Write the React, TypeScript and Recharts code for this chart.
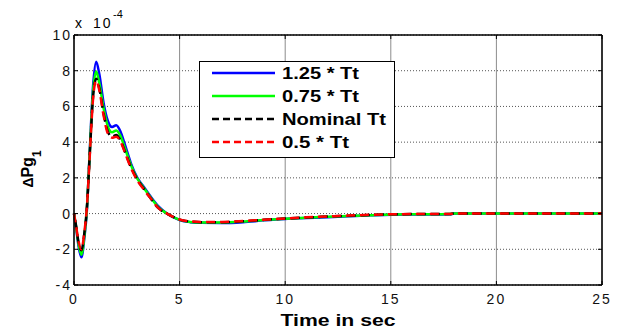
import { LineChart, Line, XAxis, YAxis, CartesianGrid, Legend } from "recharts"

const FONT = "Arial, 'Liberation Sans', Helvetica, sans-serif"

// time in sec
const time = [0, 0.1, 0.2, 0.35, 0.5, 0.6, 0.75, 0.9, 1.05, 1.2, 1.4, 1.6, 1.8, 2.0, 2.2, 2.4, 2.7, 3.0, 3.3, 3.6, 4.0, 4.4, 5, 5.5, 6, 7, 8, 9, 10, 11, 12, 13, 14, 15, 16, 17, 17.8, 18, 19, 20, 22, 25]

// delta Pg1, x 10^-4
const tt125 = [0, -0.8, -1.7, -2.45, -1.25, 0, 3.6, 7.1, 8.5, 7.8, 6.2, 5.2, 4.85, 4.95, 4.6, 3.9, 2.8, 2.0, 1.5, 1.0, 0.4, 0.0, -0.36, -0.48, -0.52, -0.53, -0.48, -0.38, -0.3, -0.25, -0.2, -0.15, -0.1, -0.06, -0.05, -0.05, -0.04, 0, 0, 0, 0, 0]
const tt075 = [0, -0.75, -1.6, -2.3, -1.15, 0.1, 3.5, 6.8, 7.95, 7.3, 5.9, 4.9, 4.55, 4.65, 4.35, 3.7, 2.7, 1.95, 1.45, 0.95, 0.35, 0.0, -0.35, -0.47, -0.5, -0.5, -0.45, -0.36, -0.29, -0.23, -0.18, -0.13, -0.09, -0.05, -0.04, -0.04, -0.03, 0, 0, 0, 0, 0]
const ttNominal = [0, -0.7, -1.5, -2.05, -1.0, 0.15, 3.4, 6.5, 7.55, 7.0, 5.6, 4.6, 4.3, 4.4, 4.1, 3.5, 2.6, 1.9, 1.4, 0.9, 0.3, 0.0, -0.34, -0.45, -0.48, -0.48, -0.43, -0.35, -0.28, -0.22, -0.17, -0.12, -0.08, -0.04, -0.03, -0.03, -0.02, 0, 0, 0, 0, 0]
const tt050 = [0, -0.7, -1.45, -2.0, -0.95, 0.2, 3.3, 6.4, 7.45, 6.9, 5.5, 4.5, 4.25, 4.3, 4.05, 3.45, 2.55, 1.85, 1.35, 0.9, 0.3, 0.0, -0.33, -0.44, -0.47, -0.47, -0.42, -0.34, -0.27, -0.21, -0.16, -0.11, -0.07, -0.04, -0.03, -0.03, -0.02, 0, 0, 0, 0, 0]

const seriesNames = ["1.25 * Tt", "0.75 * Tt", "Nominal Tt", "0.5 * Tt"]
const xTicks = [0, 5, 10, 15, 20, 25]
const yTicks = [-4, -2, 0, 2, 4, 6, 8, 10]

const data = time.map((t, i) => ({ t, a: tt125[i], b: tt075[i], c: ttNominal[i], d: tt050[i] }))

const series = [
  { key: "a", name: seriesNames[0], color: "#0000ff", dash: undefined, offset: 0, len: 77 },
  { key: "b", name: seriesNames[1], color: "#00ff00", dash: undefined, offset: 0, len: 77 },
  { key: "c", name: seriesNames[2], color: "#000000", dash: "9 5", offset: 7, len: 104 },
  { key: "d", name: seriesNames[3], color: "#ff0000", dash: "9 5", offset: 0, len: 67 },
]

const tickStyle = { fontSize: 14, fill: "#111", fontFamily: FONT, letterSpacing: 2 }

function LegendBox() {
  return (
    <svg width={196} height={97} style={{ display: "block" }}>
      <rect x={0.5} y={0.5} width={195} height={96} fill="#fff" stroke="#000" />
      {series.map((s, i) => {
        const y = 12 + i * 23
        return (
          <g key={s.key}>
            <line x1={13} x2={76} y1={y} y2={y} stroke={s.color} strokeWidth={2.5} strokeDasharray={s.dash ? "7 4" : undefined} />
            <text x={83} y={y + 6} fontSize={16} fontWeight="bold" fontFamily={FONT} textLength={s.len} lengthAdjust="spacingAndGlyphs">
              {s.name}
            </text>
          </g>
        )
      })}
    </svg>
  )
}

const yLabel = () => (
  <g fontFamily={FONT} fill="#000">
    <text transform="rotate(-90 33 169)" x={33} y={169} textAnchor="middle" fontSize={16} fontWeight="bold">
      <tspan fontSize={14}>Δ</tspan>Pg<tspan dy={8} fontSize={12}>1</tspan>
    </text>
    <text x={75} y={28} fontSize={14}>x</text>
    <text x={93} y={28} fontSize={14} letterSpacing={2}>10</text>
    <text x={113} y={18} fontSize={11}>-4</text>
  </g>
)

const xLabel = () => (
  <text x={338} y={326} textAnchor="middle" fontSize={16} fontWeight="bold" fontFamily={FONT} fill="#000" textLength={115} lengthAdjust="spacingAndGlyphs">
    Time in sec
  </text>
)

export default function App() {
  return (
    <div style={{ position: "absolute", left: 0, top: 0, width: 626, height: 330, background: "#fff" }}>
      <LineChart width={626} height={330} data={data} margin={{ top: 5, right: 0, bottom: 0, left: 14 }}>
        <CartesianGrid horizontal={false} stroke="#8c8c8c" />
        <CartesianGrid vertical={false} stroke="#555" strokeDasharray="1 2" />
        <XAxis
          dataKey="t"
          type="number"
          domain={[0, 25]}
          ticks={xTicks}
          interval={0}
          height={45}
          tickSize={-4}
          tickMargin={13}
          tick={tickStyle}
          axisLine={{ stroke: "#000", strokeWidth: 1.5 }}
          tickLine={{ stroke: "#000" }}
          label={xLabel}
        />
        <XAxis
          xAxisId="top"
          orientation="top"
          dataKey="t"
          type="number"
          domain={[0, 25]}
          ticks={xTicks}
          interval={0}
          height={30}
          tickSize={-4}
          tickFormatter={() => ""}
          axisLine={{ stroke: "#000", strokeWidth: 1.5 }}
          tickLine={{ stroke: "#000" }}
        />
        <YAxis
          type="number"
          domain={[-4, 10]}
          ticks={yTicks}
          interval={0}
          width={60}
          tickSize={-4}
          tickMargin={6}
          tick={tickStyle}
          axisLine={{ stroke: "#000", strokeWidth: 1.5 }}
          tickLine={{ stroke: "#000" }}
          label={yLabel}
        />
        <YAxis
          yAxisId="right"
          orientation="right"
          type="number"
          domain={[-4, 10]}
          allowDataOverflow
          ticks={yTicks}
          interval={0}
          width={24}
          tickSize={-4}
          tickFormatter={() => ""}
          axisLine={{ stroke: "#000", strokeWidth: 1.5 }}
          tickLine={{ stroke: "#000" }}
        />
        <Legend
          layout="vertical"
          align="center"
          verticalAlign="middle"
          content={() => <LegendBox />}
          wrapperStyle={{ position: "absolute", left: 199, top: 61, width: 196 }}
        />
        {series.map((s) => (
          <Line
            key={s.key}
            dataKey={s.key}
            name={s.name}
            type="monotone"
            stroke={s.color}
            strokeWidth={2.5}
            strokeDasharray={s.dash}
            strokeDashoffset={s.offset}
            dot={false}
            activeDot={false}
            isAnimationActive={false}
          />
        ))}
      </LineChart>
    </div>
  )
}
